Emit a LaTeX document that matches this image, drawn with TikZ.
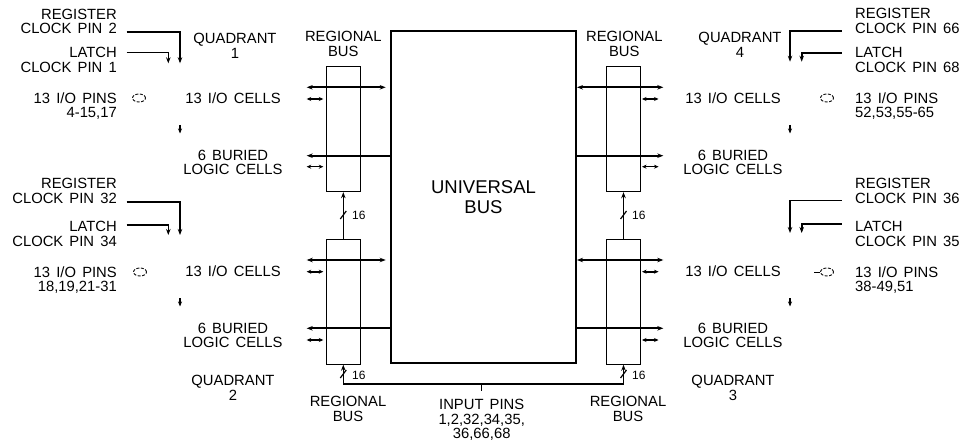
\documentclass[tikz,border=0pt]{standalone}
\usepackage{fontspec}
\setmainfont[WordSpace=1.5]{Liberation Sans}
\usetikzlibrary{arrows.meta}
\begin{document}
\begin{tikzpicture}[x=1pt,y=-1pt,
  >={Stealth[length=6pt,width=4.5pt]},
  txt/.style={font=\fontsize{14.8}{14.5}\selectfont, inner sep=0pt, align=center},
  rtxt/.style={txt, align=right, anchor=east},
  ltxt/.style={txt, align=left, anchor=west},
  regbox/.style={draw, line width=1pt, minimum width=33.5pt, minimum height=125pt, inner sep=0pt},
  ubox/.style={draw, line width=2pt, minimum width=185pt, minimum height=331.7pt, inner sep=0pt, align=center, font=\fontsize{18.5}{20}\selectfont},
  bus/.style={line width=2pt},
  sbus/.style={line width=1.6pt, {Stealth[length=4.5pt,width=4pt]}-{Stealth[length=4.5pt,width=4pt]}},
  clk/.style={line width=1.6pt, ->},
  dn/.style={line width=1.3pt, -{Stealth[length=5pt,width=4pt]}},
  thin/.style={line width=1.2pt},
  small/.style={txt, anchor=west, font=\fontsize{12}{12}\selectfont},
  pinicon/.style={draw, dash pattern=on 3pt off 1.5pt, line width=0.9pt}]
\useasboundingbox (0,0) rectangle (968,446);

% ---------- boxes ----------
\node[ubox] (ub) at (483.5,196.9) {UNIVERSAL\\BUS};
\node[regbox] (rbA) at (343.3,129.2) {};
\node[regbox] (rbB) at (343.3,301.7) {};
\node[regbox] (rbC) at (623.5,129.2) {};
\node[regbox] (rbD) at (623.5,301.7) {};

% ---------- bus labels ----------
\node[txt] (lrbA) at (343.3,44) {REGIONAL\\BUS};
\node[txt] (lrbC) at (624.3,44) {REGIONAL\\BUS};
\node[txt] (lrbB) at (348,409) {REGIONAL\\BUS};
\node[txt] (lrbD) at (628,409) {REGIONAL\\BUS};
\node[txt] (inp) at (481.7,420) {INPUT PINS\\1,2,32,34,35,\\36,66,68};

% ---------- quadrant 1 ----------
\node[rtxt] (reg1) at (117,21.5) {REGISTER\\CLOCK PIN 2};
\node[rtxt] (lat1) at (117,60) {LATCH\\CLOCK PIN 1};
\node[rtxt] (pin1) at (117,106) {13 I/O PINS\\4-15,17};
\node[txt] (q1) at (235,46) {QUADRANT\\1};
\node[txt] (io1) at (233,98.3) {13 I/O CELLS};
\node[txt] (bur1) at (233,162.5) {6 BURIED\\LOGIC CELLS};
% ---------- quadrant 2 ----------
\node[rtxt] (reg2) at (117,191) {REGISTER\\CLOCK PIN 32};
\node[rtxt] (lat2) at (117,234) {LATCH\\CLOCK PIN 34};
\node[rtxt] (pin2) at (117,280) {13 I/O PINS\\18,19,21-31};
\node[txt] (io2) at (233,271.7) {13 I/O CELLS};
\node[txt] (bur2) at (233,335.5) {6 BURIED\\LOGIC CELLS};
\node[txt] (q2) at (233,388) {QUADRANT\\2};
% ---------- quadrant 4 ----------
\node[ltxt] (reg4) at (855,21) {REGISTER\\CLOCK PIN 66};
\node[ltxt] (lat4) at (855,60) {LATCH\\CLOCK PIN 68};
\node[ltxt] (pin4) at (855,106) {13 I/O PINS\\52,53,55-65};
\node[txt] (q4) at (740,45) {QUADRANT\\4};
\node[txt] (io4) at (733,98.3) {13 I/O CELLS};
\node[txt] (bur4) at (733,162.5) {6 BURIED\\LOGIC CELLS};
% ---------- quadrant 3 ----------
\node[ltxt] (reg3) at (855,191) {REGISTER\\CLOCK PIN 36};
\node[ltxt] (lat3) at (855,234) {LATCH\\CLOCK PIN 35};
\node[ltxt] (pin3) at (855,280) {13 I/O PINS\\38-49,51};
\node[txt] (io3) at (733,271.7) {13 I/O CELLS};
\node[txt] (bur3) at (733,335.5) {6 BURIED\\LOGIC CELLS};
\node[txt] (q3) at (733,388) {QUADRANT\\3};

% ---------- bus lines (left) ----------
\coordinate (la1) at (306.7,87.3);
\coordinate (la2) at (306.7,155.7);
\coordinate (lb1) at (306.7,260);
\coordinate (lb2) at (306.7,328.3);
\draw[bus,<->] (la1) -- ([xshift=-4.3pt]ub.west |- la1);
\draw[bus,<-] (la2) -- (ub.west |- la2);
\draw[bus,<->] (lb1) -- ([xshift=-4.3pt]ub.west |- lb1);
\draw[bus,<-] (lb2) -- (ub.west |- lb2);
\draw[sbus] (306.7,99) -- (323.3,99);
\draw[sbus] (306.7,166.7) -- (323.3,166.7);
\draw[sbus] (306.7,271.7) -- (323.3,271.7);
\draw[sbus] (306.7,340) -- (323.3,340);

% ---------- bus lines (right) ----------
\coordinate (ra1) at (663.3,87.3);
\coordinate (ra2) at (663.3,155.7);
\coordinate (rb1) at (663.3,260);
\coordinate (rb2) at (663.3,328.3);
\draw[bus,<->] (ub.east |- ra1) -- (ra1);
\draw[bus,->] (ub.east |- ra2) -- (ra2);
\draw[bus,<->] (ub.east |- rb1) -- (rb1);
\draw[bus,->] (ub.east |- rb2) -- (rb2);
\draw[sbus] (642,99) -- (658.5,99);
\draw[sbus] (642,166.7) -- (658.5,166.7);
\draw[sbus] (642,271.7) -- (658.5,271.7);
\draw[sbus] (642,340) -- (658.5,340);

% ---------- 16-bit links ----------
\draw[thin,->] (rbB.north) -- (rbA.south);
\draw[thin,->] (rbD.north) -- (rbC.south);
\draw[thin] (340.3,219) -- (346.3,211);
\draw[thin] (620.5,219) -- (626.5,211);
\node[small] (n16a) at (352,215) {16};
\node[small] (n16c) at (632,215) {16};

\coordinate (inl) at (343.3,384);
\coordinate (inr) at (623.5,384);
\coordinate (inc) at (481.7,384);
\draw[thin] (inl) -- (inr);
\draw[thin,->] (inl) -- (rbB.south);
\draw[thin,->] (inr) -- (rbD.south);
\draw[thin] (inc) -- ++(0,6.5);
\draw[thin] (340.3,378) -- (346.3,370);
\draw[thin] (620.5,378) -- (626.5,370);
\node[small] (n16b) at (352,375) {16};
\node[small] (n16d) at (632,375) {16};

% ---------- clock lines ----------
\draw[clk] (126.7,32.3) -| (180,63.3);
\draw[clk] (126.7,52.7) -| (168.3,63.3);
\draw[clk] (126.7,202.3) -| (180,235);
\draw[clk] (126.7,225) -| (168.3,235);
\draw[clk] (841.7,31) -| (790,61.7);
\draw[clk] (841.7,53.3) -| (801.7,61.7);
\draw[clk] (841.7,200.5) -| (790,233);
\draw[clk] (841.7,224.3) -| (801.7,233);

% ---------- down arrows ----------
\draw[dn] (180,125) -- (180,133.5);
\draw[dn] (180,298) -- (180,306.5);
\draw[dn] (790,125) -- (790,133.5);
\draw[dn] (790,298) -- (790,306.5);

% ---------- pin icons ----------
\draw[pinicon] (139,98) ellipse (6.5pt and 4pt);
\draw[pinicon] (140,272) ellipse (6.5pt and 4pt);
\draw[pinicon] (827,98) ellipse (6.5pt and 4pt);
\draw[pinicon] (827,272) ellipse (6.5pt and 4pt);
\draw[line width=0.8pt] (814,272) -- (819.5,272);
\end{tikzpicture}
\end{document}
